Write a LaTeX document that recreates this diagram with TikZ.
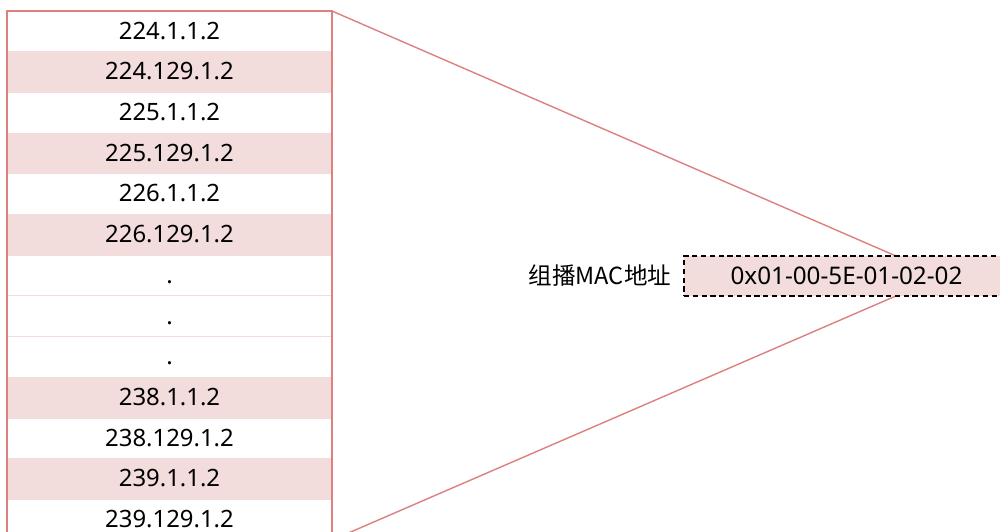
\documentclass[tikz,border=0pt]{standalone}
\usepackage{fontspec}
\setmainfont{Noto Sans}
\newfontfamily\cjk{Noto Sans CJK SC}
\usetikzlibrary{positioning}
\definecolor{linered}{RGB}{222,128,128}
\definecolor{rowpink}{RGB}{242,220,220}
\tikzset{
  row/.style={minimum width=6.5cm, minimum height=0.814cm, inner sep=0pt,
    outer sep=0pt, draw=rowpink, line width=0.6pt, text height=0.31cm,
    text depth=0cm, font=\fontsize{13.6pt}{16pt}\selectfont},
  macbox/.style={minimum width=6.5cm, minimum height=0.8cm, inner sep=0pt,
    fill=rowpink, draw=black, line width=0.7pt, dash pattern=on 3pt off 2pt,
    font=\fontsize{13.8pt}{16pt}\selectfont},
  edge/.style={linered, line width=0.8pt}
}
\begin{document}
\begin{tikzpicture}[x=0.02cm, y=-0.02cm]
  \useasboundingbox (0,0) rectangle (1000,531);
  \clip (0,0) rectangle (1000,531);
  % address table
  \foreach \i/\txt/\col in {1/224.1.1.2/white, 2/224.129.1.2/rowpink,
      3/225.1.1.2/white, 4/225.129.1.2/rowpink, 5/226.1.1.2/white,
      6/226.129.1.2/rowpink, 7/./white, 8/./white, 9/./white,
      10/238.1.1.2/rowpink, 11/238.129.1.2/white, 12/239.1.1.2/rowpink,
      13/239.129.1.2/white}
    \node[row, fill=\col, anchor=north west] (r\i) at (7, {11+(\i-1)*40.7}) {\txt};
  \draw[linered, line width=1pt] (r1.north west) rectangle (r13.south east);
  % fan to the MAC address
  \coordinate (tip) at (942,276);
  \draw[edge] (r1.north east) -- (tip);
  \draw[edge] (r13.south east) -- (tip);
  \node[macbox] (mac) at (846.5,276) {0x01-00-5E-01-02-02};
  \node[left=0.24cm of mac, inner sep=0pt, font=\fontsize{13.4pt}{16pt}\selectfont\cjk] (maclabel) {组播MAC地址};
\end{tikzpicture}
\end{document}
